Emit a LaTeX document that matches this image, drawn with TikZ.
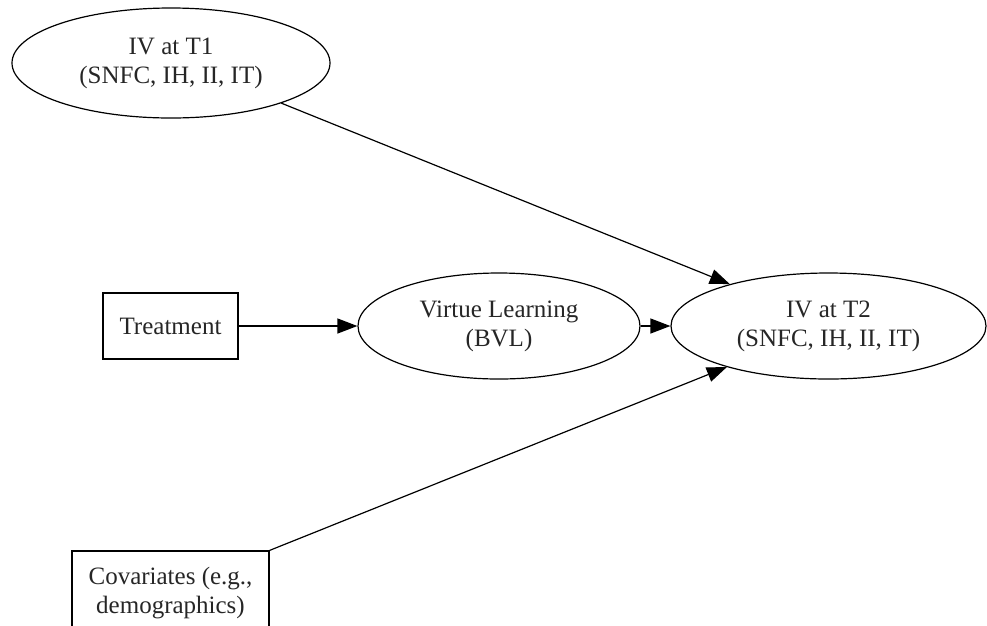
\documentclass[tikz,border=0pt]{standalone}
\usepackage{fontspec}
\setmainfont{Liberation Serif}
\usetikzlibrary{arrows.meta,shapes.geometric}
\begin{document}
\begin{tikzpicture}[x=1pt,y=-1pt,
  every node/.style={font=\fontsize{25}{29}\selectfont, align=center, text=black!85, line width=1.2pt, inner sep=0pt},
  ell/.style={draw, ellipse},
  boxnode/.style={draw, rectangle},
  edge/.style={line width=1.2pt, -{Triangle[length=20pt,width=15pt]}}]
\clip (0,0) rectangle (987,625);
\useasboundingbox (0,0) rectangle (987,625);
\node[ell, minimum width=318pt, minimum height=110pt] (t1) at (171,63) {IV at T1\\(SNFC, IH, II, IT)};
\node[boxnode, minimum width=135pt, minimum height=66pt] (tr) at (170.5,326) {Treatment};
\node[ell, minimum width=282pt, minimum height=106pt] (vl) at (499,326) {Virtue Learning\\(BVL)};
\node[ell, minimum width=315pt, minimum height=106pt] (t2) at (828.5,326) {IV at T2\\(SNFC, IH, II, IT)};
\node[boxnode, minimum width=197pt, minimum height=84pt] (cov) at (170.5,593) {Covariates (e.g.,\\demographics)};
\draw[edge] (t1.-20.6) -- (t2.157.4);
\draw[edge] (tr.east) -- (vl.west);
\draw[edge] (vl.east) -- (t2.west);
\draw[edge] (cov.north east) -- (t2.-158);
\end{tikzpicture}
\end{document}
